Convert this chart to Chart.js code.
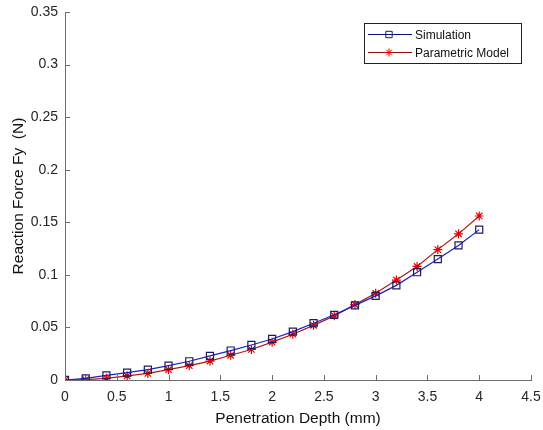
<!DOCTYPE html>
<html>
<head>
<meta charset="utf-8">
<script src="https://cdn.jsdelivr.net/npm/chart.js@4.4.1/dist/chart.umd.min.js"></script>
<style>
  html, body { margin: 0; padding: 0; background: #fff; }
  canvas { display: block; }
</style>
</head>
<body>
<canvas id="mainChart" width="543" height="430"></canvas>
<script>
// penetration depth (mm)
const depth = [0, 0.2, 0.4, 0.6, 0.8, 1.0, 1.2, 1.4, 1.6, 1.8, 2.0, 2.2, 2.4, 2.6, 2.8, 3.0, 3.2, 3.4, 3.6, 3.8, 4.0];
// reaction force (N)
const simulation = [0, 0.0016, 0.0044, 0.007, 0.0098, 0.0136, 0.0178, 0.023, 0.028, 0.0333, 0.039, 0.046, 0.054, 0.062, 0.071, 0.080, 0.090, 0.1025, 0.115, 0.128, 0.143];
const parametric = [0, 0.0003, 0.0016, 0.004, 0.0063, 0.0098, 0.0136, 0.018, 0.0235, 0.029, 0.036, 0.0435, 0.052, 0.061, 0.0717, 0.0825, 0.095, 0.108, 0.124, 0.139, 0.156];
const seriesNames = ['Simulation', 'Parametric Model'];
const xTicks = [0, 0.5, 1, 1.5, 2, 2.5, 3, 3.5, 4, 4.5];
const yTicks = [0, 0.05, 0.1, 0.15, 0.2, 0.25, 0.3, 0.35];

const FONT = 'Liberation Sans, Arial, sans-serif';
const AXIS_COL = '#6e6e6e';

function pts(ys){
    return depth.map((d, i) => ({x: d, y: ys[i]}));
}

// inward tick marks like the original
const innerTicks = {
    id: 'innerTicks',
    afterDraw(chart){
        const c = chart.ctx;
        const xs = chart.scales.x, ys = chart.scales.y;
        c.save();
        c.strokeStyle = AXIS_COL;
        c.lineWidth = 1;
        c.beginPath();
        xTicks.forEach(v => {
            const px = Math.round(xs.getPixelForValue(v)) + 0.5;
            c.moveTo(px, ys.bottom);
            c.lineTo(px, ys.bottom - 5);
        });
        yTicks.forEach(v => {
            const py = Math.round(ys.getPixelForValue(v)) + 0.5;
            c.moveTo(xs.left, py);
            c.lineTo(xs.left + 5, py);
        });
        c.stroke();
        c.restore();
    }
};

// boxed legend in the upper right
const boxLegend = {
    id: 'boxLegend',
    afterDraw(chart){
        const c = chart.ctx;
        const x0 = 364, y0 = 23, w = 157, h = 40;
        c.save();
        c.fillStyle = '#fff';
        c.fillRect(x0, y0, w, h);
        c.strokeStyle = '#222';
        c.lineWidth = 1;
        c.strokeRect(x0 + 0.5, y0 + 0.5, w, h);
        c.font = '12px ' + FONT;
        c.textBaseline = 'middle';
        chart.data.datasets.forEach((ds, i) => {
            const ly = Math.round(y0 + 11 + i * 17.5) + 0.5;
            c.strokeStyle = i === 0 ? '#10107a' : '#8a1010';
            c.lineWidth = 1;
            c.beginPath();
            c.moveTo(x0 + 4, ly);
            c.lineTo(x0 + 48, ly);
            c.stroke();
            c.strokeStyle = ds.pointBorderColor;
            c.fillStyle = ds.pointBackgroundColor;
            Chart.helpers.drawPoint(c, {
                pointStyle: ds.pointStyle,
                radius: ds.pointRadius - 0.5,
                borderWidth: 1
            }, x0 + 25, ly);
            c.fillStyle = '#111';
            c.textAlign = 'left';
            c.fillText(ds.label, x0 + 51, ly + 1);
        });
        c.restore();
    }
};

document.addEventListener('DOMContentLoaded', function(){
    const ctx = document.getElementById('mainChart').getContext('2d');
    window.myChart = new Chart(ctx, {
        type: 'line',
        data: {
            datasets: [{
                label: seriesNames[0],
                data: pts(simulation),
                borderColor: '#1a22c8',
                borderWidth: 1.2,
                pointStyle: 'rect',
                pointRadius: 5,
                pointBorderColor: '#1c1c5a',
                pointBackgroundColor: 'rgba(255,255,255,0)',
                pointBorderWidth: 1.2,
                tension: 0
            }, {
                label: seriesNames[1],
                data: pts(parametric),
                borderColor: '#b01818',
                borderWidth: 1.2,
                pointStyle: 'star',
                pointRadius: 4.5,
                pointBorderColor: '#e00000',
                pointBackgroundColor: '#e00000',
                pointBorderWidth: 1.2,
                tension: 0
            }]
        },
        options: {
            responsive: false,
            animation: false,
            devicePixelRatio: 1,
            layout: { padding: { top: 12, right: 12, left: 0, bottom: 0 } },
            plugins: { legend: { display: false }, tooltip: { enabled: false } },
            scales: {
                x: {
                    type: 'linear',
                    min: 0, max: 4.5,
                    afterBuildTicks: s => { s.ticks = xTicks.map(v => ({value: v})); },
                    afterFit: s => { s.height = 50; s.paddingRight = 0; s.paddingLeft = 0; },
                    grid: { display: false, drawTicks: false },
                    border: { display: true, color: AXIS_COL, width: 1 },
                    ticks: {
                        autoSkip: false,
                        maxRotation: 0,
                        padding: 9,
                        color: '#262626',
                        font: { family: FONT, size: 14 },
                        callback: v => String(+v.toFixed(2))
                    },
                    title: {
                        display: true,
                        text: 'Penetration Depth (mm)',
                        color: '#111',
                        font: { family: FONT, size: 15.5 },
                        padding: { top: 0, bottom: 2 }
                    }
                },
                y: {
                    type: 'linear',
                    min: 0, max: 0.35,
                    afterBuildTicks: s => { s.ticks = yTicks.map(v => ({value: v})); },
                    afterFit: s => { s.width = 65; s.paddingTop = 0; s.paddingBottom = 0; },
                    grid: { display: false, drawTicks: false },
                    border: { display: true, color: AXIS_COL, width: 1 },
                    ticks: {
                        autoSkip: false,
                        padding: 7,
                        color: '#262626',
                        font: { family: FONT, size: 14 },
                        callback: v => String(+v.toFixed(2))
                    },
                    title: {
                        display: true,
                        text: 'Reaction Force Fy  (N)',
                        color: '#111',
                        font: { family: FONT, size: 15.5 },
                        padding: { top: 9, bottom: 0 }
                    }
                }
            }
        },
        plugins: [innerTicks, boxLegend]
    });
});
</script>
</body>
</html>
